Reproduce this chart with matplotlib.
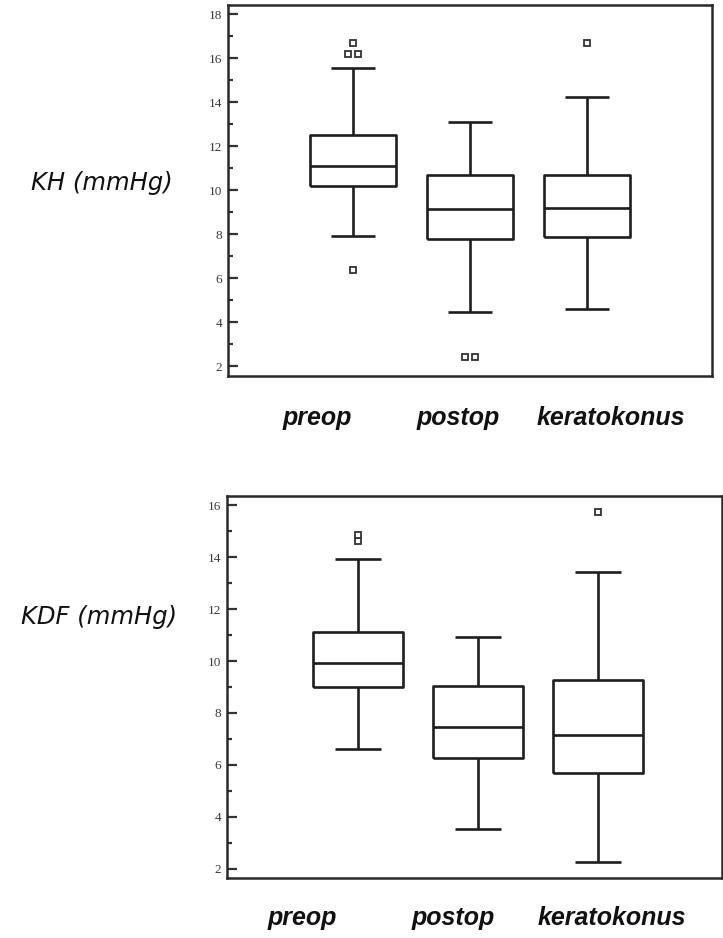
import matplotlib
matplotlib.use("Agg")
import matplotlib.pyplot as plt
from matplotlib.ticker import MultipleLocator

groups = ["preop", "postop", "keratokonus"]

# KH (mmHg)
kh_q1 = [10.18, 7.77, 7.86]
kh_med = [11.09, 9.14, 9.18]
kh_q3 = [12.50, 10.68, 10.70]
kh_lo = [7.91, 4.45, 4.59]
kh_hi = [15.55, 13.09, 14.23]
kh_out = [[16.2, 16.2, 16.7, 6.36], [2.41, 2.41], [16.7]]

# KDF (mmHg)
kdf_q1 = [9.00, 6.27, 5.69]
kdf_med = [9.92, 7.46, 7.15]
kdf_q3 = [11.12, 9.04, 9.27]
kdf_lo = [6.62, 3.54, 2.27]
kdf_hi = [13.92, 10.92, 13.42]
kdf_out = [[14.6, 14.85], [], [15.73]]

INK = "#1e1e1e"
LW = 1.9


def draw_panel(ax, q1, med, q3, lo, hi, outliers, ylim, ytop, xlim, width, capw):
    stats = []
    for i in range(len(groups)):
        stats.append(dict(med=med[i], q1=q1[i], q3=q3[i],
                          whislo=lo[i], whishi=hi[i], fliers=[], label=groups[i]))
    pos = [1, 2, 3]
    line = dict(color=INK, linewidth=LW, solid_capstyle="butt")
    ax.bxp(stats, positions=pos, widths=width, capwidths=capw,
           showfliers=False, manage_ticks=False,
           boxprops=line, whiskerprops=line, capprops=line, medianprops=line)

    # outliers; equal values are set side by side
    for p, vals in zip(pos, outliers):
        for v in set(vals):
            n = vals.count(v)
            for k in range(n):
                dx = (k - (n - 1) / 2) * 0.08
                ax.plot(p + dx, v, marker="s", ms=4.2, mfc="white",
                        mec="#333333", mew=1.3, ls="none", clip_on=False)

    ax.set_xlim(*xlim)
    ax.set_ylim(*ylim)
    ax.set_xticks([])
    ax.yaxis.set_major_locator(MultipleLocator(2))
    ax.yaxis.set_minor_locator(MultipleLocator(1))
    ax.set_yticks(range(2, ytop + 1, 2))
    ax.tick_params(axis="y", which="major", direction="in", length=7, width=1.6,
                   color="#333333", pad=4, labelsize=9.5, labelcolor="#3a3a3a")
    ax.tick_params(axis="y", which="minor", direction="in", length=3.5, width=1.6,
                   color="#333333")
    for lab in ax.get_yticklabels():
        lab.set_fontfamily("Liberation Serif")
    for s in ax.spines.values():
        s.set_linewidth(1.8)
        s.set_color("#2a2a2a")


fig = plt.figure(figsize=(7.23, 9.38), dpi=100)

ax1 = fig.add_axes([0.3154, 0.5991, 0.6694, 0.3955])
draw_panel(ax1, kh_q1, kh_med, kh_q3, kh_lo, kh_hi, kh_out,
           (1.545, 18.41), 18, (-0.068, 4.068), 0.73, 0.37)

ax2 = fig.add_axes([0.3140, 0.0640, 0.6846, 0.4072])
draw_panel(ax2, kdf_q1, kdf_med, kdf_q3, kdf_lo, kdf_hi, kdf_out,
           (1.65, 16.35), 16, (-0.092, 4.03), 0.75, 0.38)

W, H = 723, 938
label_font = dict(family="DejaVu Sans", style="italic", size=17.5, color="#111111")
fig.text(31 / W, 1 - 183 / H, "KH (mmHg)", ha="left", va="center", **label_font)
fig.text(21 / W, 1 - 617 / H, "KDF (mmHg)", ha="left", va="center", **label_font)

cat_font = dict(family="Liberation Sans", style="italic", weight="bold",
                size=18, color="#111111")
for name, x in zip(groups, [317, 458, 611]):
    fig.text(x / W, 1 - 425 / H, name, ha="center", va="baseline", **cat_font)
for name, x in zip(groups, [302, 453, 612]):
    fig.text(x / W, 1 - 925 / H, name, ha="center", va="baseline", **cat_font)

fig.savefig("out.png", dpi=100, facecolor="white")
